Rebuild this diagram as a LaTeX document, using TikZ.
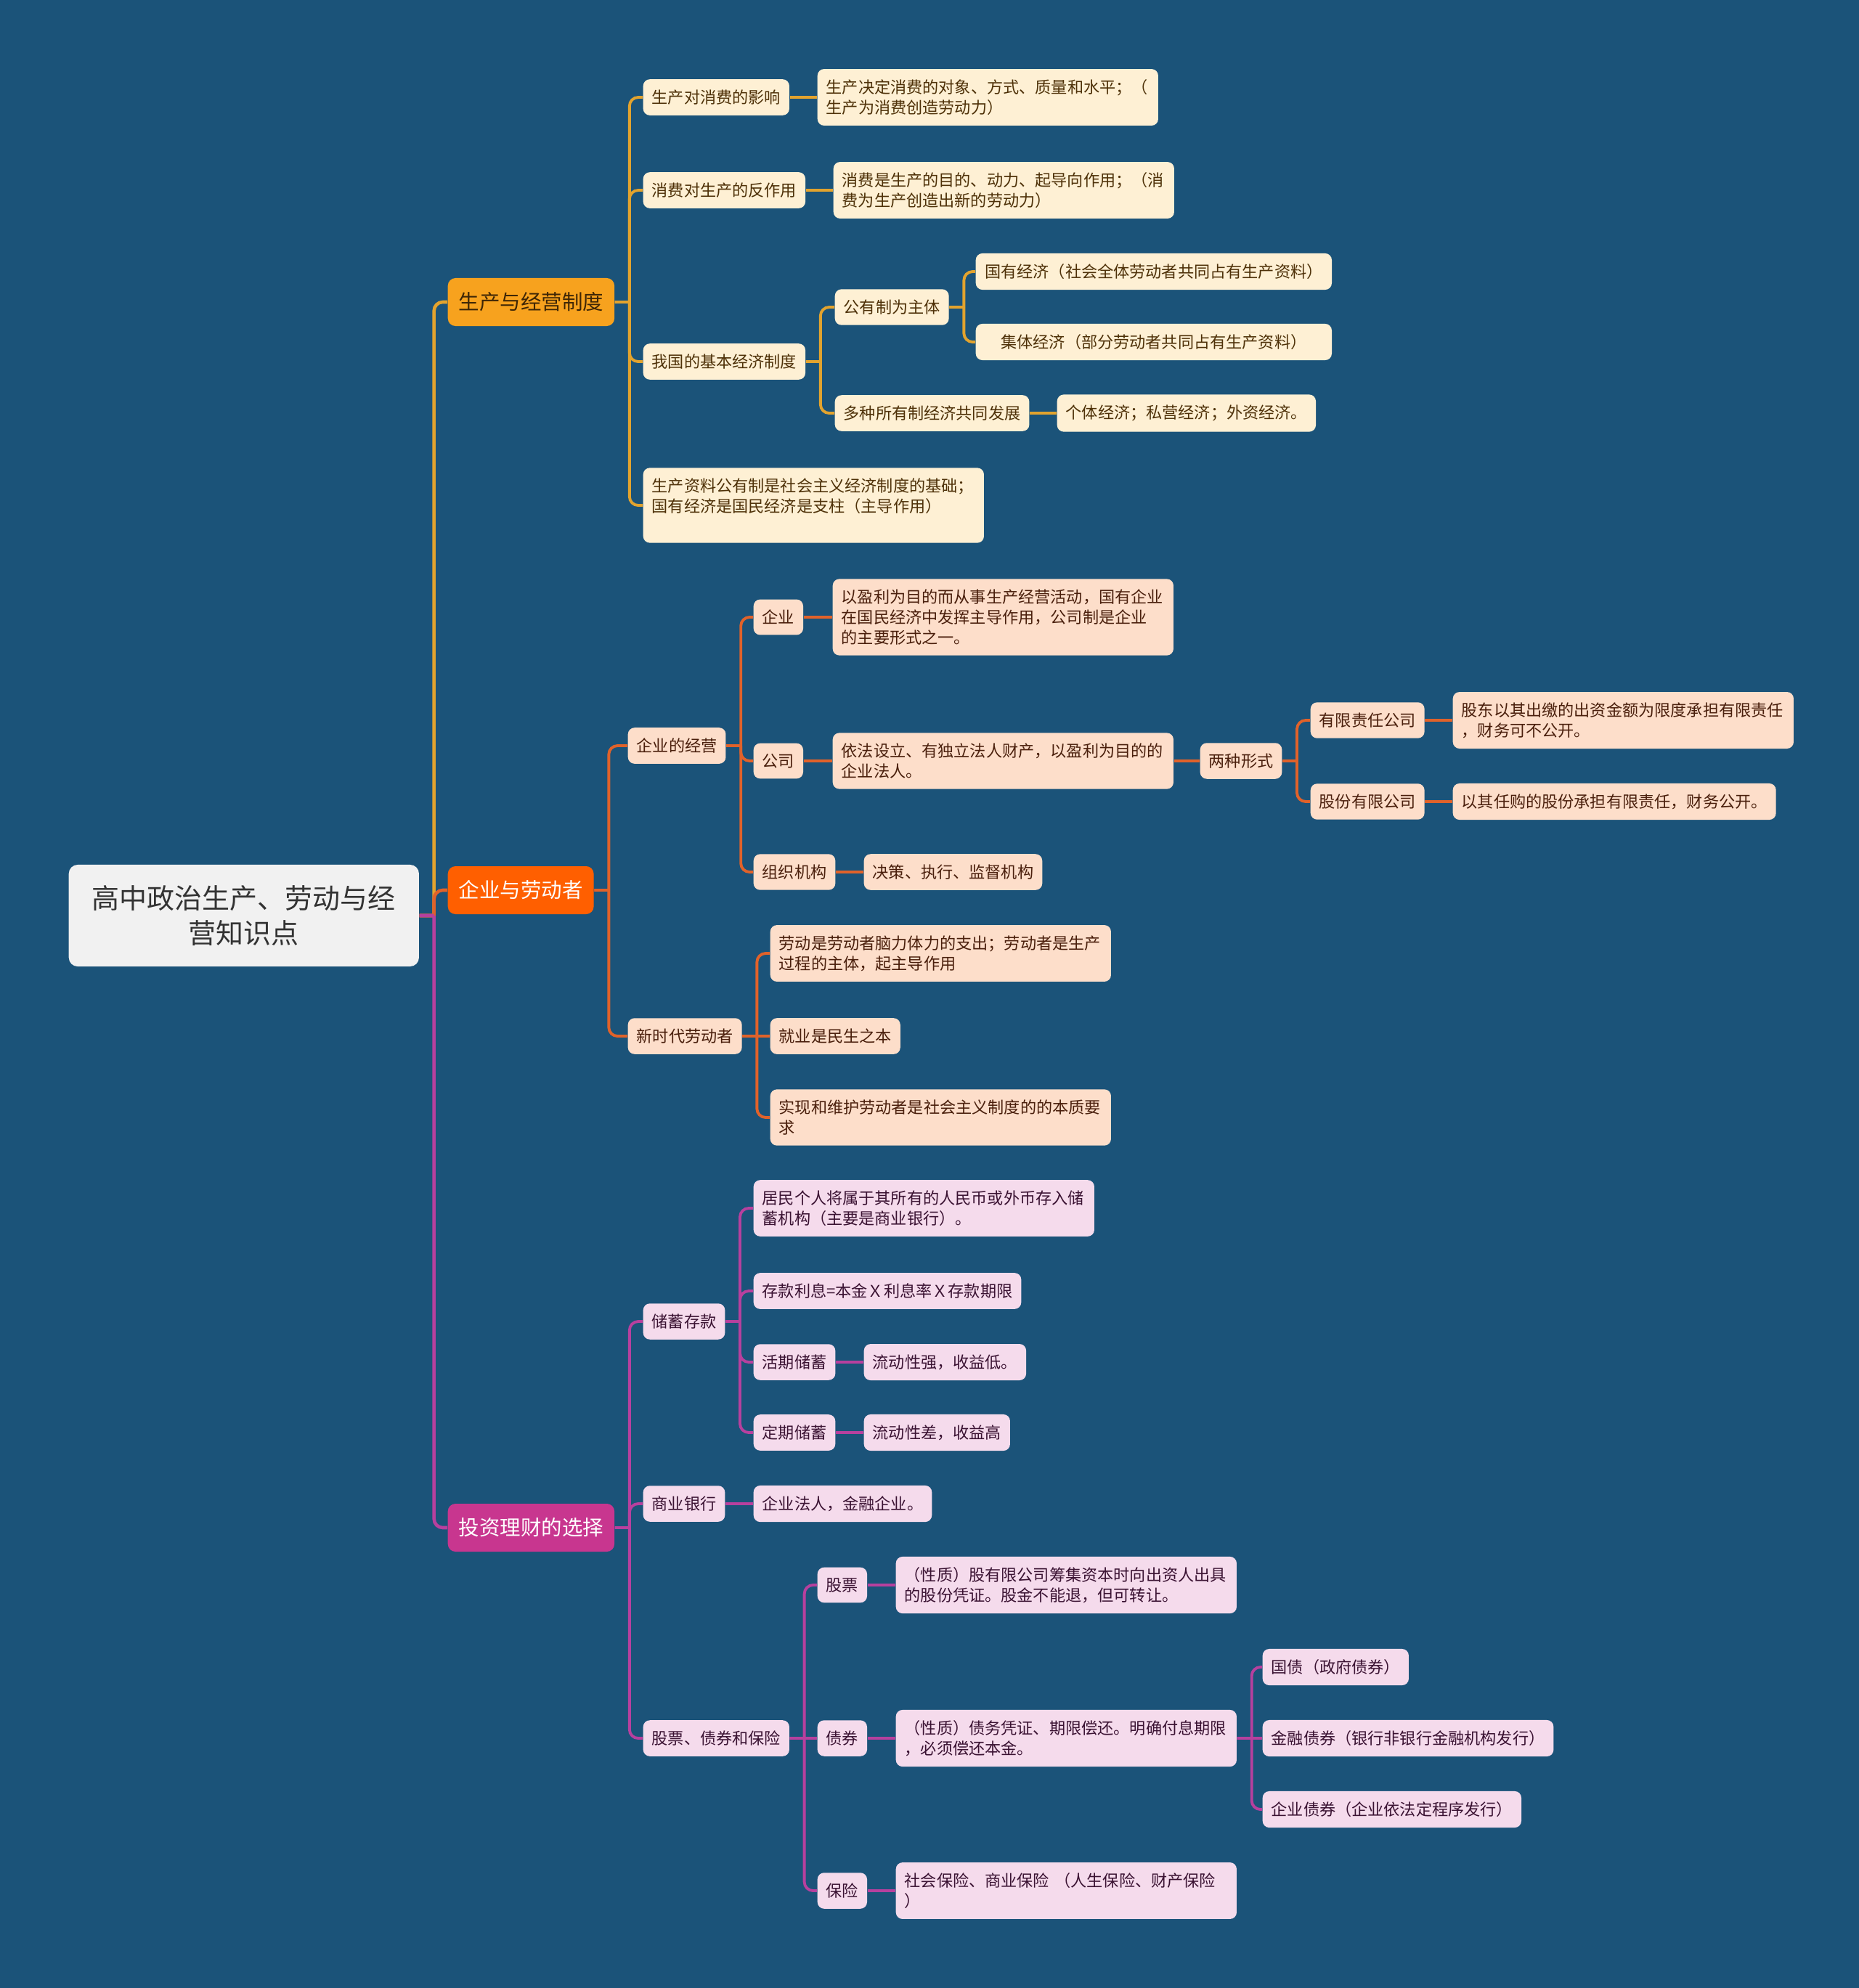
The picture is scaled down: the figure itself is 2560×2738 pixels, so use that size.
\documentclass[tikz,border=0pt]{standalone}
\usepackage{fontspec}
\setmainfont{Noto Sans CJK SC}
\usetikzlibrary{positioning}
\definecolor{bg}{HTML}{1B5379}
\definecolor{gold}{HTML}{F7A21E}
\definecolor{goldln}{HTML}{E2A32E}
\definecolor{goldtx}{HTML}{3E2606}
\definecolor{cream}{HTML}{FEF0D4}
\definecolor{creamtx}{HTML}{4E3108}
\definecolor{orng}{HTML}{FF5F00}
\definecolor{orngln}{HTML}{E0622A}
\definecolor{peach}{HTML}{FDDECA}
\definecolor{peachtx}{HTML}{4A1F0C}
\definecolor{mag}{HTML}{C8368F}
\definecolor{magln}{HTML}{B7409E}
\definecolor{pink}{HTML}{F5DBEC}
\definecolor{pinktx}{HTML}{3A1232}
\definecolor{rootfill}{HTML}{F1F1F1}
\newcommand{\leaffont}{\fontsize{6.3}{7.9}\selectfont}
\newcommand{\topicfont}{\fontsize{8.1}{10}\selectfont}
\newcommand{\rootfont}{\fontsize{10.8}{13.9}\selectfont}
\tikzset{box/.style={rounded corners=2.6pt,anchor=west,align=left,inner xsep=.12cm,inner ysep=.145cm,font=\leaffont},
  yl/.style={box,fill=cream,text=creamtx},
  ol/.style={box,fill=peach,text=peachtx},
  ml/.style={box,fill=pink,text=pinktx},
  wide/.style={text width=4.45cm},
  topic/.style={rounded corners=3pt,anchor=west,inner xsep=.15cm,minimum height=.66cm,font=\topicfont},
  rootbox/.style={rounded corners=3.5pt,anchor=west,align=center,fill=rootfill,text=black!80,minimum width=4.82cm,minimum height=1.4cm,font=\rootfont},
  link/.style={line width=1.1pt,rounded corners=.12cm,
    to path={(\tikztostart.east) -- ++(.2cm,0) ++(0,0) |- (\tikztotarget.west)}},
  straight/.style={line width=1.1pt,to path={(\tikztostart.east) -- (\tikztotarget.west)}}}

\begin{document}
\begin{tikzpicture}[x=.01cm,y=-.01cm]
\fill[bg] (0,0) rectangle (2560,2738);
\node[rootbox] (root) at (94,1261) {高中政治生产、劳动与经\\营知识点};
% main topics
\node[topic,fill=gold,text=goldtx] (prod) at (616,416) {生产与经营制度};
\node[topic,fill=orng,text=white] (firm) at (616,1226) {企业与劳动者};
\node[topic,fill=mag,text=white] (inv) at (616,2104) {投资理财的选择};

% 生产与经营制度
\node[yl] (p1) at (885,134) {生产对消费的影响};
\node[yl,wide] (p1a) at (1125,134) {生产决定消费的对象、方式、质量和水平；（\\生产为消费创造劳动力）};
\node[yl] (p2) at (885,262) {消费对生产的反作用};
\node[yl,wide] (p2a) at (1147,262) {消费是生产的目的、动力、起导向作用；（消\\费为生产创造出新的劳动力）};
\node[yl] (p3) at (885,498) {我国的基本经济制度};
\node[yl] (p3a) at (1149,423) {公有制为主体};
\node[yl,minimum width=4.9cm,align=center] (p3a1) at (1343,374) {国有经济（社会全体劳动者共同占有生产资料）};
\node[yl,minimum width=4.9cm,align=center] (p3a2) at (1343,471) {集体经济（部分劳动者共同占有生产资料）};
\node[yl] (p3b) at (1149,569) {多种所有制经济共同发展};
\node[yl] (p3b1) at (1455,569) {个体经济；私营经济；外资经济。};
\node[yl,wide] (p4) at (885,696) {生产资料公有制是社会主义经济制度的基础；\\国有经济是国民经济是支柱（主导作用）\\\mbox{}};

% 企业与劳动者
\node[ol] (f1) at (864,1027) {企业的经营};
\node[ol] (f1a) at (1037,850) {企业};
\node[ol,wide] (f1a1) at (1146,850) {以盈利为目的而从事生产经营活动，国有企业\\在国民经济中发挥主导作用，公司制是企业\\的主要形式之一。};
\node[ol] (f1b) at (1037,1048) {公司};
\node[ol,wide] (f1b1) at (1146,1048) {依法设立、有独立法人财产，以盈利为目的的\\企业法人。};
\node[ol] (f1c) at (1652,1048) {两种形式};
\node[ol] (f1c1) at (1804,992) {有限责任公司};
\node[ol,wide] (f1c1a) at (2000,992) {股东以其出缴的出资金额为限度承担有限责任\\，财务可不公开。};
\node[ol] (f1c2) at (1804,1104) {股份有限公司};
\node[ol] (f1c2a) at (2000,1104) {以其任购的股份承担有限责任，财务公开。};
\node[ol] (f1d) at (1037,1201) {组织机构};
\node[ol] (f1d1) at (1189,1201) {决策、执行、监督机构};
\node[ol] (f2) at (864,1427) {新时代劳动者};
\node[ol,wide] (f2a) at (1060,1313) {劳动是劳动者脑力体力的支出；劳动者是生产\\过程的主体，起主导作用};
\node[ol] (f2b) at (1060,1427) {就业是民生之本};
\node[ol,wide] (f2c) at (1060,1539) {实现和维护劳动者是社会主义制度的的本质要\\求};

% 投资理财的选择
\node[ml] (i1) at (885,1820) {储蓄存款};
\node[ml,wide] (i1a) at (1037,1664) {居民个人将属于其所有的人民币或外币存入储\\蓄机构（主要是商业银行）。};
\node[ml] (i1b) at (1037,1778) {存款利息=本金Ｘ利息率Ｘ存款期限};
\node[ml] (i1c) at (1037,1876) {活期储蓄};
\node[ml] (i1c1) at (1189,1876) {流动性强，收益低。};
\node[ml] (i1d) at (1037,1973) {定期储蓄};
\node[ml] (i1d1) at (1189,1973) {流动性差，收益高};
\node[ml] (i2) at (885,2071) {商业银行};
\node[ml] (i2a) at (1037,2071) {企业法人，金融企业。};
\node[ml] (i3) at (885,2394) {股票、债券和保险};
\node[ml] (i3a) at (1125,2183) {股票};
\node[ml,wide] (i3a1) at (1233,2183) {（性质）股有限公司筹集资本时向出资人出具\\的股份凭证。股金不能退，但可转让。};
\node[ml] (i3b) at (1125,2394) {债券};
\node[ml,wide] (i3b1) at (1233,2394) {（性质）债务凭证、期限偿还。明确付息期限\\，必须偿还本金。};
\node[ml] (i3b1a) at (1738,2296) {国债（政府债券）};
\node[ml] (i3b1b) at (1738,2394) {金融债券（银行非银行金融机构发行）};
\node[ml] (i3b1c) at (1738,2492) {企业债券（企业依法定程序发行）};
\node[ml] (i3c) at (1125,2604) {保险};
\node[ml,wide] (i3c1) at (1233,2604) {社会保险、商业保险 （人生保险、财产保险\\）};

% connectors
\draw[link,goldln,line width=1.3pt] (root) to (prod);
\draw[link,orngln,line width=1.3pt] (root) to (firm);
\draw[link,magln,line width=1.3pt] (root) to (inv);
\foreach \a/\b in {prod/p1,prod/p2,prod/p3,prod/p4,p3/p3a,p3/p3b,p3a/p3a1,p3a/p3a2}
  \draw[link,goldln] (\a) to (\b);
\foreach \a/\b in {p1/p1a,p2/p2a,p3b/p3b1}
  \draw[straight,goldln] (\a) to (\b);
\foreach \a/\b in {firm/f1,firm/f2,f1/f1a,f1/f1b,f1/f1d,f1c/f1c1,f1c/f1c2,f2/f2a,f2/f2c}
  \draw[link,orngln] (\a) to (\b);
\foreach \a/\b in {f1a/f1a1,f1b/f1b1,f1b1/f1c,f1c1/f1c1a,f1c2/f1c2a,f1d/f1d1,f2/f2b}
  \draw[straight,orngln] (\a) to (\b);
\foreach \a/\b in {inv/i1,inv/i2,inv/i3,i1/i1a,i1/i1b,i1/i1c,i1/i1d,i3/i3a,i3/i3c,i3b1/i3b1a,i3b1/i3b1c}
  \draw[link,magln] (\a) to (\b);
\foreach \a/\b in {i1c/i1c1,i1d/i1d1,i2/i2a,i3/i3b,i3a/i3a1,i3b/i3b1,i3c/i3c1,i3b1/i3b1b}
  \draw[straight,magln] (\a) to (\b);
\end{tikzpicture}
\end{document}
